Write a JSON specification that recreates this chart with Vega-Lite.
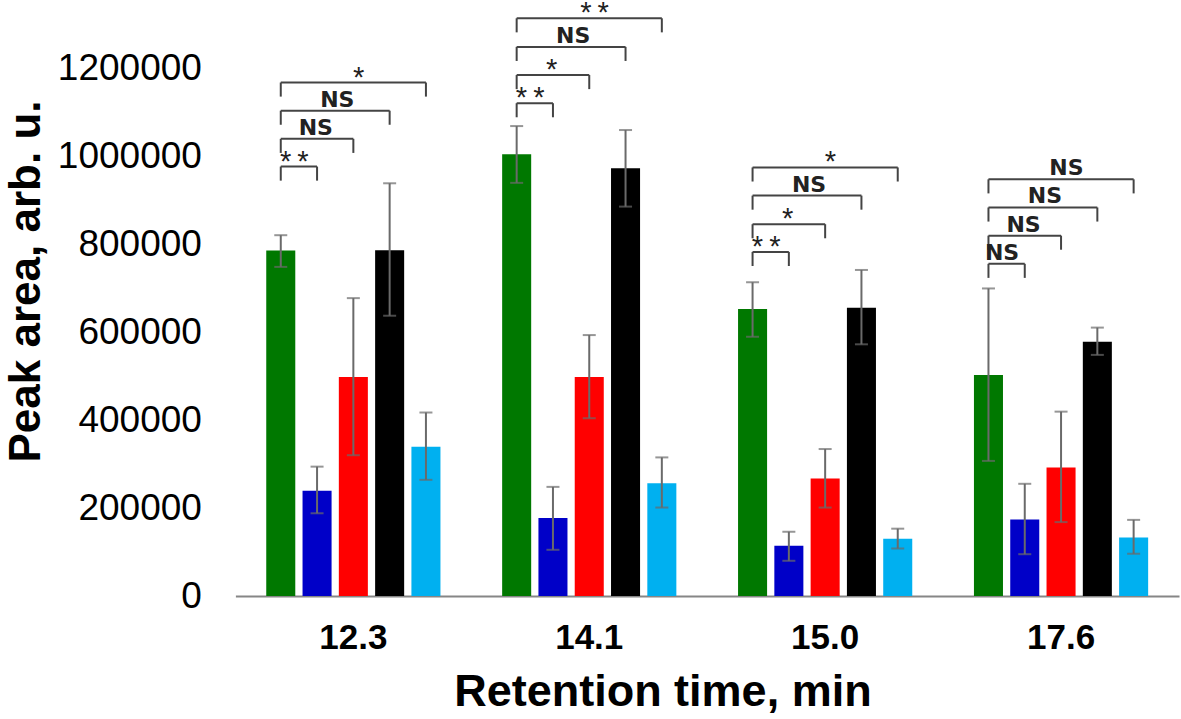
{
  "$schema": "https://vega.github.io/schema/vega-lite/v6.json",
  "width": 943.6,
  "height": 528,
  "autosize": "none",
  "padding": {"left": 235.4, "top": 68, "right": 2, "bottom": 123},
  "background": "white",
  "config": {"view": {"stroke": null}, "font": "Liberation Sans"},
  "datasets": {
    "bars": [
      {"t": "12.3", "s": "green", "v": 785000, "lo": 748000, "hi": 820000},
      {"t": "12.3", "s": "blue", "v": 239000, "lo": 188000, "hi": 294000},
      {"t": "12.3", "s": "red", "v": 498000, "lo": 320000, "hi": 677000},
      {"t": "12.3", "s": "black", "v": 786000, "lo": 637000, "hi": 938000},
      {"t": "12.3", "s": "lightblue", "v": 339000, "lo": 264000, "hi": 417000},
      {"t": "14.1", "s": "green", "v": 1004000, "lo": 939000, "hi": 1068000},
      {"t": "14.1", "s": "blue", "v": 177000, "lo": 105000, "hi": 248000},
      {"t": "14.1", "s": "red", "v": 498000, "lo": 404000, "hi": 593000},
      {"t": "14.1", "s": "black", "v": 972000, "lo": 885000, "hi": 1059000},
      {"t": "14.1", "s": "lightblue", "v": 256000, "lo": 201000, "hi": 315000},
      {"t": "15.0", "s": "green", "v": 652000, "lo": 589000, "hi": 713000},
      {"t": "15.0", "s": "blue", "v": 114000, "lo": 80000, "hi": 146000},
      {"t": "15.0", "s": "red", "v": 267000, "lo": 201000, "hi": 334000},
      {"t": "15.0", "s": "black", "v": 655000, "lo": 572000, "hi": 741000},
      {"t": "15.0", "s": "lightblue", "v": 130000, "lo": 108000, "hi": 153000},
      {"t": "17.6", "s": "green", "v": 502000, "lo": 307000, "hi": 699000},
      {"t": "17.6", "s": "blue", "v": 174000, "lo": 95000, "hi": 255000},
      {"t": "17.6", "s": "red", "v": 292000, "lo": 168000, "hi": 419000},
      {"t": "17.6", "s": "black", "v": 578000, "lo": 548000, "hi": 610000},
      {"t": "17.6", "s": "lightblue", "v": 133000, "lo": 96000, "hi": 173000}
    ],
    "brackets": [
      {"t": "12.3", "from": "green", "to": "blue", "mid": "g-b", "y": 976000, "end": 944000, "label": "**"},
      {"t": "12.3", "from": "green", "to": "red", "mid": "blue", "y": 1039000, "end": 1007000, "label": "NS"},
      {"t": "12.3", "from": "green", "to": "black", "mid": "b-r", "y": 1103000, "end": 1071000, "label": "NS"},
      {"t": "12.3", "from": "green", "to": "lightblue", "mid": "red", "y": 1167000, "end": 1135000, "label": "*"},
      {"t": "14.1", "from": "green", "to": "blue", "mid": "g-b", "y": 1120000, "end": 1088000, "label": "**"},
      {"t": "14.1", "from": "green", "to": "red", "mid": "blue", "y": 1184000, "end": 1152000, "label": "*"},
      {"t": "14.1", "from": "green", "to": "black", "mid": "b-r", "y": 1248000, "end": 1216000, "label": "NS"},
      {"t": "14.1", "from": "green", "to": "lightblue", "mid": "red", "y": 1313000, "end": 1281000, "label": "**"},
      {"t": "15.0", "from": "green", "to": "blue", "mid": "g-b", "y": 782000, "end": 750000, "label": "**"},
      {"t": "15.0", "from": "green", "to": "red", "mid": "blue", "y": 845000, "end": 813000, "label": "*"},
      {"t": "15.0", "from": "green", "to": "black", "mid": "b-r", "y": 910000, "end": 878000, "label": "NS"},
      {"t": "15.0", "from": "green", "to": "lightblue", "mid": "red", "y": 974000, "end": 942000, "label": "*"},
      {"t": "17.6", "from": "green", "to": "blue", "mid": "g-b", "y": 755000, "end": 723000, "label": "NS"},
      {"t": "17.6", "from": "green", "to": "red", "mid": "blue", "y": 819000, "end": 787000, "label": "NS"},
      {"t": "17.6", "from": "green", "to": "black", "mid": "b-r", "y": 883000, "end": 851000, "label": "NS"},
      {"t": "17.6", "from": "green", "to": "lightblue", "mid": "red", "y": 947000, "end": 915000, "label": "NS"}
    ]
  },
  "layer": [
    {
      "layer": [
        {
          "data": {"name": "bars"},
          "mark": {"type": "bar"},
          "encoding": {
            "x": {
              "field": "t", "type": "nominal",
              "scale": {"domain": ["12.3", "14.1", "15.0", "17.6"], "paddingInner": 0, "paddingOuter": 0},
              "axis": {
                "title": "Retention time, min",
                "labelAngle": 0, "labelFont": "Liberation Sans", "labelFontWeight": "bold",
                "labelFontSize": 35, "labelColor": "black", "labelPadding": 52,
                "labelBaseline": "alphabetic", "ticks": false, "tickSize": 0,
                "domainColor": "#868686", "domainWidth": 2,
                "titleFont": "Liberation Sans", "titleFontSize": 45, "titleFontWeight": "bold",
                "titleColor": "black", "titleX": 427, "titleY": 109, "titleBaseline": "alphabetic"
              }
            },
            "xOffset": {
              "field": "s", "type": "nominal",
              "scale": {"domain": ["green", "blue", "red", "black", "lightblue"], "paddingInner": 0.2, "paddingOuter": 0.85}
            },
            "y": {
              "field": "v", "type": "quantitative",
              "scale": {"domain": [0, 1200000], "nice": false},
              "axis": {
                "title": "Peak area, arb. u.",
                "values": [0, 200000, 400000, 600000, 800000, 1000000, 1200000],
                "format": "d", "domain": false, "grid": false, "ticks": false, "tickSize": 0,
                "labelPadding": 34, "labelFontSize": 37, "labelColor": "black", "labelFont": "Liberation Sans",
                "titleFont": "Liberation Sans", "titleFontSize": 44, "titleFontWeight": "bold", "titleColor": "black",
                "titleX": -196, "titleY": 213, "titleAngle": -90, "titleBaseline": "alphabetic", "titleAlign": "center"
              }
            },
            "color": {
              "field": "s", "type": "nominal",
              "scale": {
                "domain": ["green", "blue", "red", "black", "lightblue"],
                "range": ["#007800", "#0000C8", "#FF0000", "#000000", "#00B0F0"]
              },
              "legend": null
            }
          }
        },
        {
          "data": {"name": "bars"},
          "mark": {"type": "rule", "color": "#6a6a6a", "strokeWidth": 2},
          "encoding": {
            "x": {"field": "t", "type": "nominal"},
            "xOffset": {"field": "s", "type": "nominal"},
            "y": {"field": "lo", "type": "quantitative"},
            "y2": {"field": "hi"}
          }
        },
        {
          "data": {"name": "bars"},
          "transform": [{"fold": ["lo", "hi"], "as": ["end", "ev"]}],
          "mark": {"type": "tick", "color": "#6a6a6a", "size": 13, "thickness": 2},
          "encoding": {
            "x": {"field": "t", "type": "nominal"},
            "xOffset": {"field": "s", "type": "nominal"},
            "y": {"field": "ev", "type": "quantitative"}
          }
        },
        {
          "data": {"name": "brackets"},
          "transform": [{"fold": ["from", "to"], "as": ["side", "s"]}],
          "mark": {"type": "rule", "color": "#444444", "strokeWidth": 2},
          "encoding": {
            "x": {"field": "t", "type": "nominal"},
            "xOffset": {"field": "s", "type": "nominal"},
            "y": {"field": "y", "type": "quantitative"},
            "y2": {"field": "end"}
          }
        },
        {
          "data": {"name": "brackets"},
          "transform": [{"fold": ["from", "to"], "as": ["side", "s"]}],
          "mark": {"type": "line", "color": "#444444", "strokeWidth": 2},
          "encoding": {
            "x": {"field": "t", "type": "nominal"},
            "xOffset": {"field": "s", "type": "nominal"},
            "y": {"field": "y", "type": "quantitative"},
            "detail": [{"field": "t"}, {"field": "to"}]
          }
        }
      ]
    },
    {
      "data": {"name": "brackets"},
      "encoding": {
        "x": {"field": "t", "type": "nominal"},
        "xOffset": {
          "field": "mid", "type": "nominal",
          "scale": {
            "type": "band",
            "domain": ["green", "g-b", "blue", "b-r", "red", "r-k", "black", "k-lb", "lightblue"],
            "paddingInner": 0, "paddingOuter": 2, "align": 0.625
          }
        },
        "y": {"field": "y", "type": "quantitative"},
        "text": {"field": "label"}
      },
      "layer": [
        {
          "transform": [{"filter": "datum.label !== 'NS'"}],
          "mark": {"type": "text", "font": "Liberation Mono", "fontSize": 29, "color": "#222222", "baseline": "alphabetic", "dy": 6}
        },
        {
          "transform": [{"filter": "datum.label === 'NS'"}],
          "mark": {"type": "text", "font": "DejaVu Sans", "fontWeight": "bold", "fontSize": 22, "color": "#222222", "baseline": "alphabetic", "dy": -4}
        }
      ]
    }
  ],
  "resolve": {"scale": {"xOffset": "independent"}}
}
